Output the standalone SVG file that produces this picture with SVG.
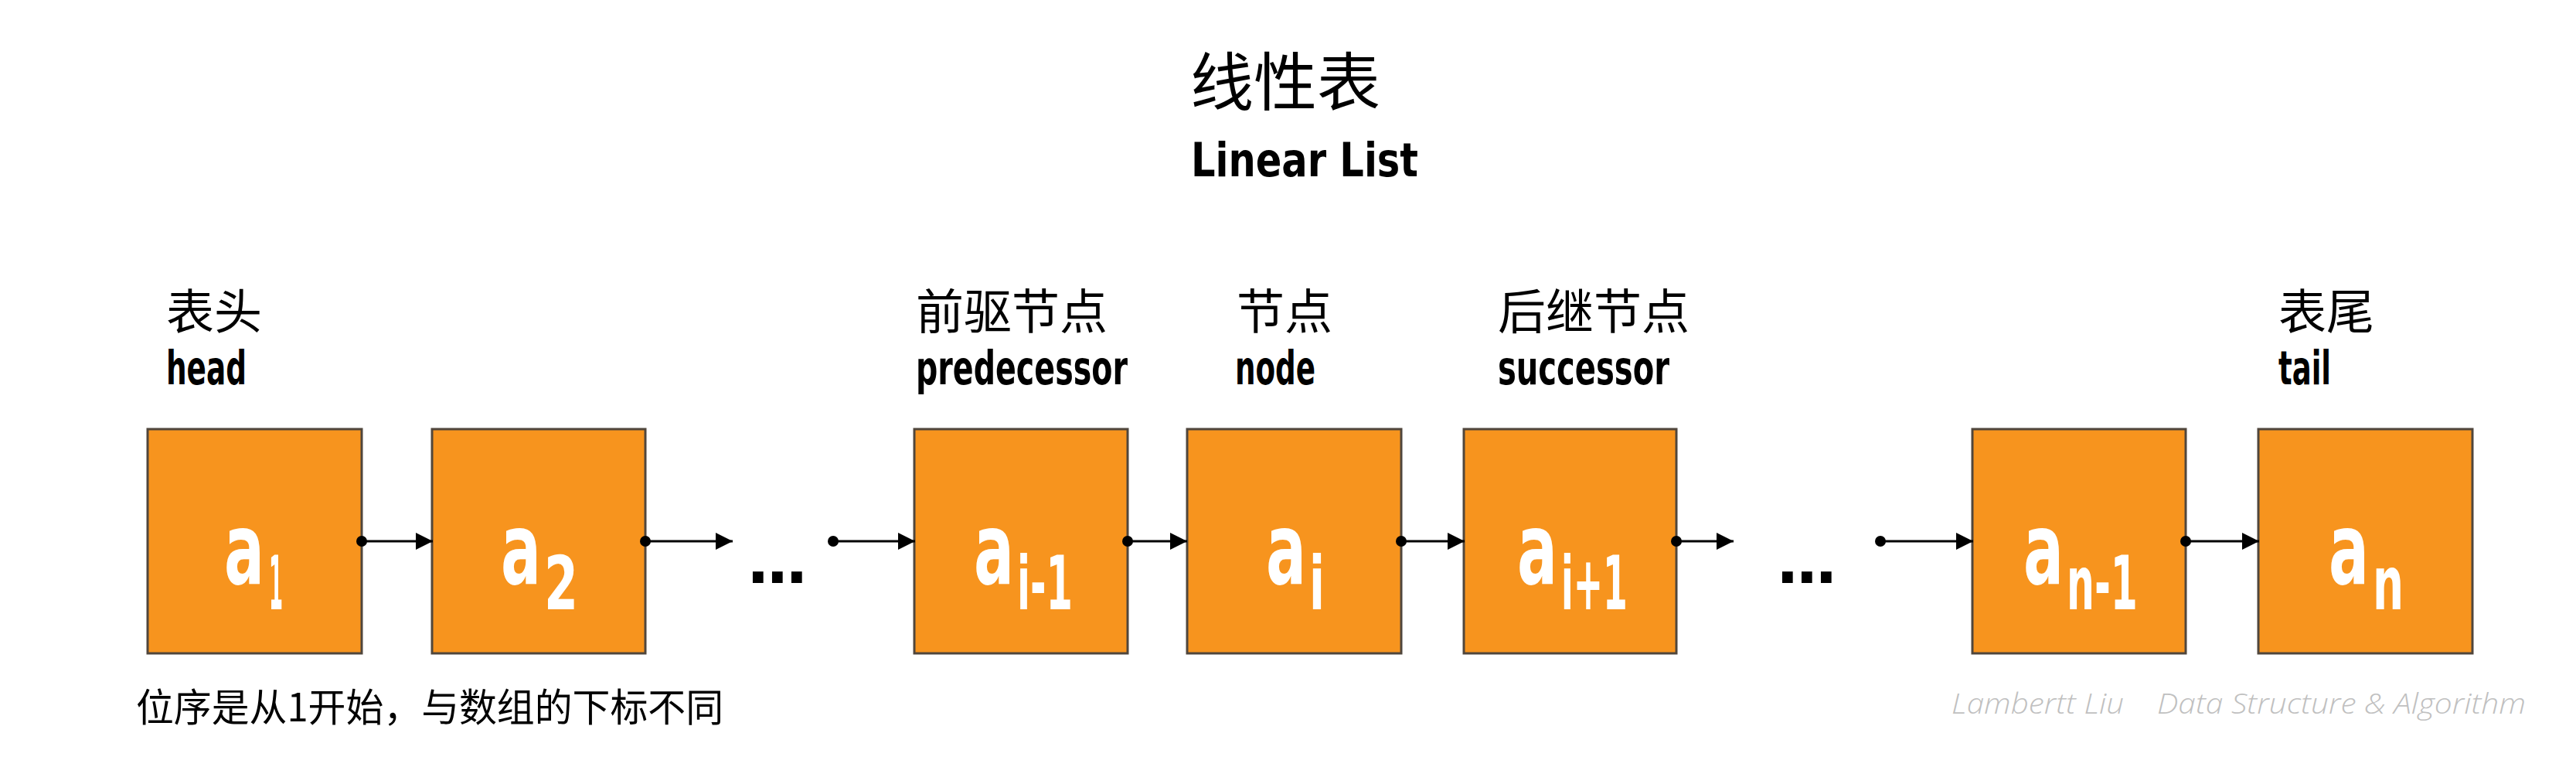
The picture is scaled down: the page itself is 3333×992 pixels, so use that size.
<svg xmlns="http://www.w3.org/2000/svg" width="3333" height="992" viewBox="0 0 3333 992">
<style>
.box{fill:#F7941E;stroke:#50463c;stroke-width:3}
.cjk{font-family:"Noto Sans CJK SC","Noto Sans CJK JP",sans-serif;fill:#000}
.lbl{font-family:"DejaVu Sans","Liberation Sans",sans-serif;font-weight:bold;font-size:60px;fill:#000}
.va{font-family:"DejaVu Sans","Liberation Sans",sans-serif;font-weight:bold;font-size:128px;fill:#fff;text-anchor:middle}
.vs{font-family:"DejaVu Sans","Liberation Sans",sans-serif;font-weight:bold;font-size:97px;fill:#fff;text-anchor:middle}
.dots{font-family:"DejaVu Sans",sans-serif;font-weight:bold;font-size:78px;letter-spacing:-4.6px;fill:#000}
.conn{stroke:#000;stroke-width:3;fill:none;marker-start:url(#dot);marker-end:url(#arr)}
.wm{font-family:"Open Sans","Liberation Sans",sans-serif;font-style:italic;font-weight:300;font-size:37px;fill:#c0c0c0}
</style>
<defs>
<marker id="arr" markerUnits="userSpaceOnUse" markerWidth="22" markerHeight="22" refX="20" refY="10" orient="auto" viewBox="0 0 20 20"><path d="M0,0 L20,10 L0,20 z" fill="#000"/></marker>
<marker id="dot" markerUnits="userSpaceOnUse" markerWidth="16" markerHeight="16" refX="8" refY="8" viewBox="0 0 16 16"><circle cx="8" cy="8" r="7" fill="#000"/></marker>
</defs>
<rect width="3333" height="992" fill="#fff"/>
<g id="title">
<text class="cjk" x="1540" y="136" font-size="82">线性表</text>
<text class="lbl" x="1541" y="228" font-size="86" textLength="294" lengthAdjust="spacingAndGlyphs">Linear List</text>
</g>
<g id="labels">
<text class="cjk" x="215" y="426" font-size="62">表头</text>
<text class="lbl" x="215" y="497" textLength="104" lengthAdjust="spacingAndGlyphs">head</text>
<text class="cjk" x="1185" y="426" font-size="62">前驱节点</text>
<text class="lbl" x="1185" y="497" textLength="274" lengthAdjust="spacingAndGlyphs">predecessor</text>
<text class="cjk" x="1600" y="426" font-size="62">节点</text>
<text class="lbl" x="1598" y="497" textLength="104" lengthAdjust="spacingAndGlyphs">node</text>
<text class="cjk" x="1938" y="426" font-size="62">后继节点</text>
<text class="lbl" x="1938" y="497" textLength="222" lengthAdjust="spacingAndGlyphs">successor</text>
<text class="cjk" x="2948" y="426" font-size="62">表尾</text>
<text class="lbl" x="2948" y="497" textLength="68" lengthAdjust="spacingAndGlyphs">tail</text>
</g>
<g id="node-a1">
<rect class="box" x="191" y="555" width="277" height="290"/>
<text class="va" transform="translate(316,0) scale(0.602,1)" x="0" y="755">a</text>
<text class="vs" transform="translate(357,0) scale(0.267,1)" x="0" y="788">1</text>
</g>
<g id="node-a2">
<rect class="box" x="559" y="555" width="276" height="290"/>
<text class="va" transform="translate(674,0) scale(0.602,1)" x="0" y="755">a</text>
<text class="vs" transform="translate(726,0) scale(0.652,1)" x="0" y="788">2</text>
</g>
<g id="ellipsis-1">
<text class="dots" x="966" y="754">...</text>
</g>
<g id="node-ai-1">
<rect class="box" x="1183" y="555" width="276" height="290"/>
<text class="va" transform="translate(1286,0) scale(0.602,1)" x="0" y="755">a</text>
<text class="vs" transform="translate(1352,0) scale(0.511,1)" x="0" y="788">i-1</text>
</g>
<g id="node-ai">
<rect class="box" x="1536" y="555" width="277" height="290"/>
<text class="va" transform="translate(1664,0) scale(0.602,1)" x="0" y="755">a</text>
<text class="vs" transform="translate(1704,0) scale(0.6,1)" x="0" y="788">i</text>
</g>
<g id="node-ai+1">
<rect class="box" x="1894" y="555" width="275" height="290"/>
<text class="va" transform="translate(1989,0) scale(0.602,1)" x="0" y="755">a</text>
<text class="vs" transform="translate(2063,0) scale(0.472,1)" x="0" y="788">i+1</text>
</g>
<g id="ellipsis-2">
<text class="dots" x="2298" y="754">...</text>
</g>
<g id="node-an-1">
<rect class="box" x="2552" y="555" width="276" height="290"/>
<text class="va" transform="translate(2644,0) scale(0.602,1)" x="0" y="755">a</text>
<text class="vs" transform="translate(2720,0) scale(0.52,1)" x="0" y="788">n-1</text>
</g>
<g id="node-an">
<rect class="box" x="2922" y="555" width="277" height="290"/>
<text class="va" transform="translate(3039,0) scale(0.602,1)" x="0" y="755">a</text>
<text class="vs" transform="translate(3090,0) scale(0.58,1)" x="0" y="788">n</text>
</g>
<g id="connectors">
<path class="conn" d="M468,700 H560"/>
<path class="conn" d="M835,700 H948"/>
<path class="conn" d="M1078,700 H1184"/>
<path class="conn" d="M1459,700 H1536"/>
<path class="conn" d="M1813,700 H1895"/>
<path class="conn" d="M2169,700 H2243"/>
<path class="conn" d="M2433,700 H2553"/>
<path class="conn" d="M2828,700 H2923"/>
</g>
<g id="note">
<text class="cjk" x="176" y="933" font-size="50" textLength="760" lengthAdjust="spacingAndGlyphs">位序是从1开始，与数组的下标不同</text>
</g>
<g id="watermark">
<text class="wm" x="2525" y="923" textLength="223" lengthAdjust="spacingAndGlyphs">Lambertt Liu</text>
<text class="wm" x="2791" y="923" textLength="477" lengthAdjust="spacingAndGlyphs">Data Structure &amp; Algorithm</text>
</g>
</svg>
